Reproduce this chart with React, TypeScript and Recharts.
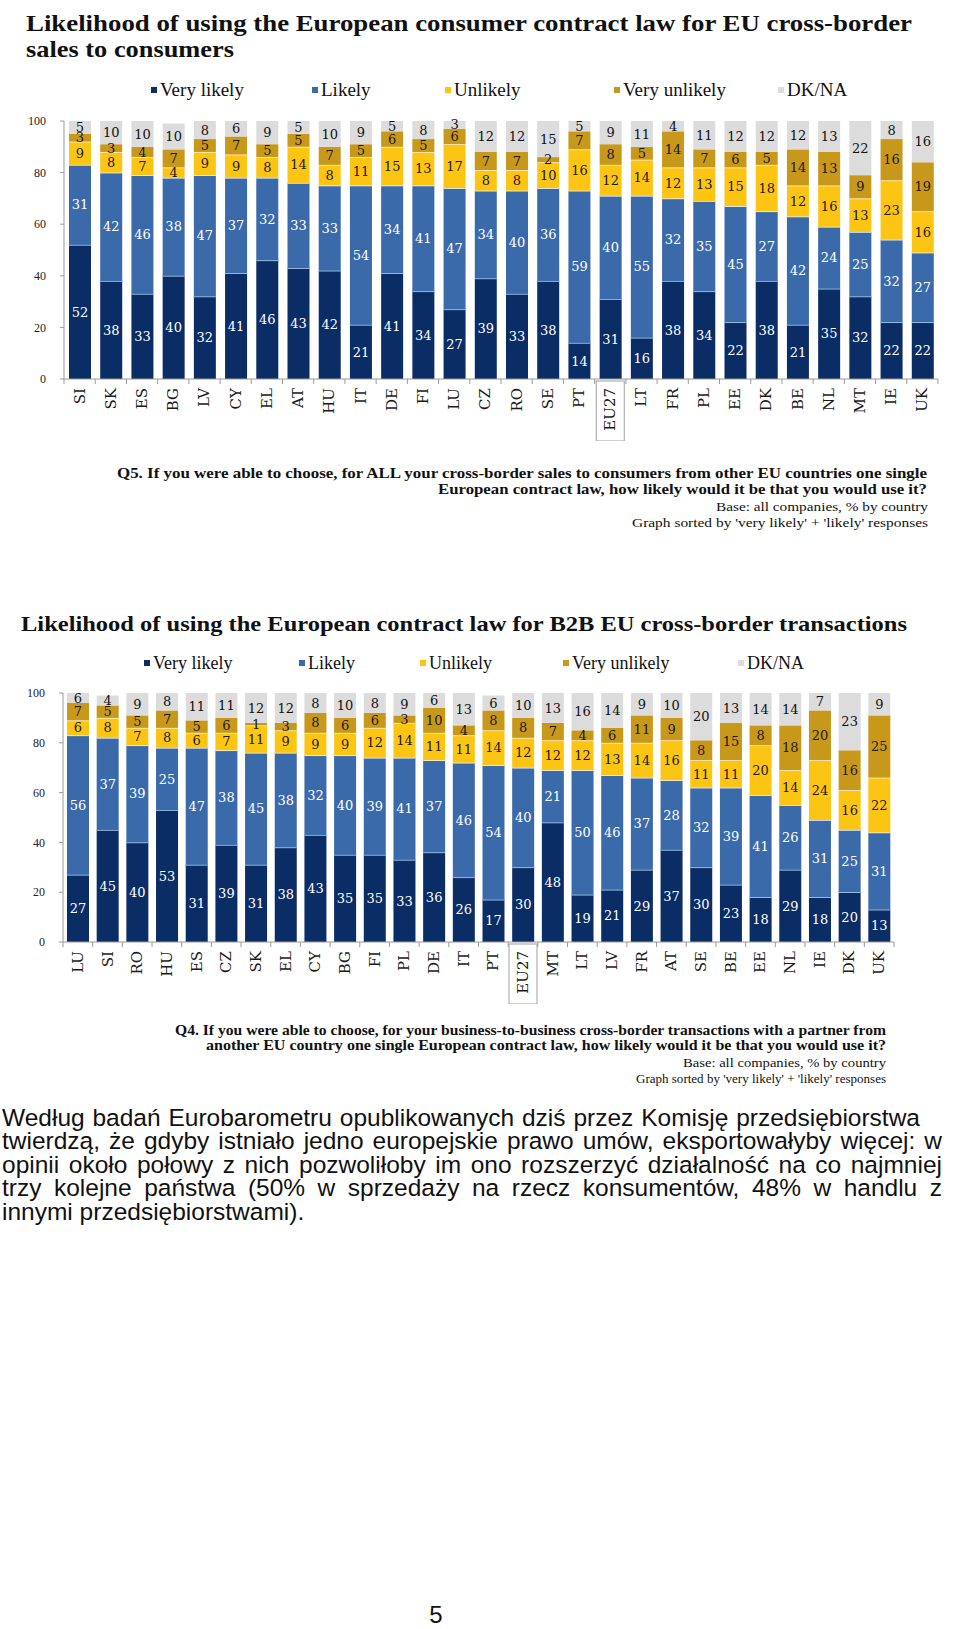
import React from 'react';
import { BarChart, Bar, XAxis, YAxis, LabelList } from 'recharts';

// Q5: B2C sales, sorted by very likely + likely
const b2cCountries = ['SI', 'SK', 'ES', 'BG', 'LV', 'CY', 'EL', 'AT', 'HU', 'IT', 'DE', 'FI', 'LU', 'CZ', 'RO', 'SE', 'PT', 'EU27', 'LT', 'FR', 'PL', 'EE', 'DK', 'BE', 'NL', 'MT', 'IE', 'UK'];
const b2cVeryLikely = [52, 38, 33, 40, 32, 41, 46, 43, 42, 21, 41, 34, 27, 39, 33, 38, 14, 31, 16, 38, 34, 22, 38, 21, 35, 32, 22, 22];
const b2cLikely = [31, 42, 46, 38, 47, 37, 32, 33, 33, 54, 34, 41, 47, 34, 40, 36, 59, 40, 55, 32, 35, 45, 27, 42, 24, 25, 32, 27];
const b2cUnlikely = [9, 8, 7, 4, 9, 9, 8, 14, 8, 11, 15, 13, 17, 8, 8, 10, 16, 12, 14, 12, 13, 15, 18, 12, 16, 13, 23, 16];
const b2cVeryUnlikely = [3, 3, 4, 7, 5, 7, 5, 5, 7, 5, 6, 5, 6, 7, 7, 2, 7, 8, 5, 14, 7, 6, 5, 14, 13, 9, 16, 19];
const b2cDkNa = [5, 10, 10, 10, 8, 6, 9, 5, 10, 9, 5, 8, 3, 12, 12, 15, 5, 9, 11, 4, 11, 12, 12, 12, 13, 22, 8, 16];

// Q4: B2B transactions
const b2bCountries = ['LU', 'SI', 'RO', 'HU', 'ES', 'CZ', 'SK', 'EL', 'CY', 'BG', 'FI', 'PL', 'DE', 'IT', 'PT', 'EU27', 'MT', 'LT', 'LV', 'FR', 'AT', 'SE', 'BE', 'EE', 'NL', 'IE', 'DK', 'UK'];
const b2bVeryLikely = [27, 45, 40, 53, 31, 39, 31, 38, 43, 35, 35, 33, 36, 26, 17, 30, 48, 19, 21, 29, 37, 30, 23, 18, 29, 18, 20, 13];
const b2bLikely = [56, 37, 39, 25, 47, 38, 45, 38, 32, 40, 39, 41, 37, 46, 54, 40, 21, 50, 46, 37, 28, 32, 39, 41, 26, 31, 25, 31];
const b2bUnlikely = [6, 8, 7, 8, 6, 7, 11, 9, 9, 9, 12, 14, 11, 11, 14, 12, 12, 12, 13, 14, 16, 11, 11, 20, 14, 24, 16, 22];
const b2bVeryUnlikely = [7, 5, 5, 7, 5, 6, 1, 3, 8, 6, 6, 3, 10, 4, 8, 8, 7, 4, 6, 11, 9, 8, 15, 8, 18, 20, 16, 25];
const b2bDkNa = [6, 4, 9, 8, 11, 11, 12, 12, 8, 10, 8, 9, 6, 13, 6, 10, 13, 16, 14, 9, 10, 20, 13, 14, 14, 7, 23, 9];

const yTicks = [0, 20, 40, 60, 80, 100];

const seriesKeys = ['veryLikely', 'likely', 'unlikely', 'veryUnlikely', 'dkna'];
const seriesNames = ['Very likely', 'Likely', 'Unlikely', 'Very unlikely', 'DK/NA'];
const seriesColors = ['#0b2d66', '#3b6aab', '#fcc513', '#c8981b', '#dcdcdc'];
const labelColors = ['#ffffff', '#ffffff', '#1e1a10', '#1e1a10', '#111111'];
const edgeColors = ['#a9cdec', '#eef2f8', '#fff4d0', null, null];

const SERIF = '"Liberation Serif", "Times New Roman", serif';
const DJ = '"DejaVu Serif", serif';
const SANS = '"Liberation Sans", Arial, sans-serif';

const makeRows = (countries: string[], cols: number[][]) =>
  countries.map((country, i) => {
    const row: any = { country };
    seriesKeys.forEach((k, j) => { row[k] = cols[j][i]; });
    return row;
  });

const b2cRows = makeRows(b2cCountries, [b2cVeryLikely, b2cLikely, b2cUnlikely, b2cVeryUnlikely, b2cDkNa]);
const b2bRows = makeRows(b2bCountries, [b2bVeryLikely, b2bLikely, b2bUnlikely, b2bVeryUnlikely, b2bDkNa]);

const segShape = (edge: string | null) => (props: any) => {
  const { x, y, width, height, fill } = props;
  if (!height || height <= 0) return <g />;
  return (
    <g>
      <rect x={x} y={y} width={width} height={height} fill={fill} />
      {edge && <line x1={x} x2={x + width} y1={y} y2={y} stroke={edge} strokeWidth={1.6} />}
    </g>
  );
};

// rotated country label, small boundary ticks under the axis, box around EU27
const makeTick = (pitch: number, last: string) => (props: any) => {
  const { x, y, payload } = props;
  const isEu = payload.value === 'EU27';
  return (
    <g transform={`translate(${x},${y})`}>
      <line x1={-pitch / 2} x2={-pitch / 2} y1={-8} y2={-3} stroke="#9a9a9a" />
      {payload.value === last && <line x1={pitch / 2} x2={pitch / 2} y1={-8} y2={-3} stroke="#9a9a9a" />}
      {isEu && <rect x={-14} y={-6} width={28} height={60} fill="none" stroke="#a0a0a0" strokeWidth={1} />}
      <text transform="rotate(-90)" x={-1} y={0} dy={5} textAnchor="end" fontSize={15} fontFamily={DJ} fill="#1a1a1a">
        {payload.value}
      </text>
    </g>
  );
};

const StackedChart = ({ rows, top, height, right, yWidth, pitch }: any) => (
  <div style={{ position: 'absolute', left: 0, top }}>
    <BarChart width={960} height={height} data={rows} barSize={22}
      margin={{ top: 10, right, bottom: 0, left: 0 }}>
      <XAxis dataKey="country" interval={0} height={62} tickLine={false}
        axisLine={{ stroke: '#9a9a9a' }} tick={makeTick(pitch, rows[rows.length - 1].country)} />
      <YAxis width={yWidth} domain={[0, 100]} ticks={yTicks} allowDataOverflow
        tickSize={4} tickMargin={14} axisLine={{ stroke: '#9a9a9a' }} tickLine={{ stroke: '#9a9a9a' }}
        tick={{ fontSize: 12, fontFamily: SERIF, fill: '#222' }} />
      {seriesKeys.map((k, j) => (
        <Bar key={k} dataKey={k} stackId="a" fill={seriesColors[j]} isAnimationActive={false}
          shape={segShape(edgeColors[j])}>
          <LabelList dataKey={k} position="center" fill={labelColors[j]} fontSize={13} fontFamily={DJ} />
        </Bar>
      ))}
    </BarChart>
  </div>
);

const Legend = ({ xs, cy, fontSize }: any) => (
  <g>
    {seriesNames.map((name, j) => (
      <g key={name}>
        <rect x={xs[j]} y={cy - 3} width={6} height={6} fill={seriesColors[j]} />
        <text x={xs[j] + 9} y={cy + 6} fontSize={fontSize} fontFamily={SERIF} fill="#111">{name}</text>
      </g>
    ))}
  </g>
);

const Note = ({ x, y, w, bold, size, anchor, children }: any) => (
  <text x={x} y={y} textLength={w} lengthAdjust="spacingAndGlyphs" textAnchor={anchor || 'end'}
    fontSize={size} fontWeight={bold ? 'bold' : 'normal'} fontFamily={SERIF} fill="#111">
    {children}
  </text>
);

const paragraph = [
  'Według badań Eurobarometru opublikowanych dziś przez Komisję przedsiębiorstwa',
  'twierdzą, że gdyby istniało jedno europejskie prawo umów, eksportowałyby więcej: w',
  'opinii około połowy z nich pozwoliłoby im ono rozszerzyć działalność na co najmniej',
  'trzy kolejne państwa (50% w sprzedaży na rzecz konsumentów, 48% w handlu z',
  'innymi przedsiębiorstwami).',
];
const lineWidths = [918, 940, 940, 940, 0];

export default function App() {
  return (
    <div style={{ position: 'absolute', left: 0, top: 0, width: 960, height: 1629, background: '#fff', overflow: 'hidden' }}>
      <StackedChart rows={b2cRows} top={111} height={330} right={22} yWidth={64} pitch={31.2} />
      <StackedChart rows={b2bRows} top={683} height={321} right={66} yWidth={63} pitch={29.7} />

      <svg width={960} height={1629} style={{ position: 'absolute', left: 0, top: 0, pointerEvents: 'none' }}>
        <Note x={26} y={31} w={886} bold size={24} anchor="start">
          Likelihood of using the European consumer contract law for EU cross-border
        </Note>
        <Note x={26} y={57} w={208} bold size={24} anchor="start">sales to consumers</Note>
        <Legend xs={[151, 312, 445, 614, 778]} cy={90} fontSize={19} />

        <Note x={927} y={478} w={810} bold size={15}>
          Q5. If you were able to choose, for ALL your cross-border sales to consumers from other EU countries one single
        </Note>
        <Note x={927} y={494} w={489} bold size={15}>
          European contract law, how likely would it be that you would use it?
        </Note>
        <Note x={928} y={511} w={212} size={13}>Base: all companies, % by country</Note>
        <Note x={928} y={527} w={296} size={13}>Graph sorted by 'very likely' + 'likely' responses</Note>

        <Note x={21} y={631} w={886} bold size={22} anchor="start">
          Likelihood of using the European contract law for B2B EU cross-border transactions
        </Note>
        <Legend xs={[144, 299, 420, 563, 738]} cy={663} fontSize={18} />

        <Note x={886} y={1035} w={711} bold size={15}>
          Q4. If you were able to choose, for your business-to-business cross-border transactions with a partner from
        </Note>
        <Note x={886} y={1050} w={680} bold size={15}>
          another EU country one single European contract law, how likely would it be that you would use it?
        </Note>
        <Note x={886} y={1067} w={203} size={13}>Base: all companies, % by country</Note>
        <Note x={886} y={1083} w={250} size={13}>Graph sorted by 'very likely' + 'likely' responses</Note>

        <text x={436} y={1623} textAnchor="middle" fontSize={24} fontFamily={SANS} fill="#111">5</text>
      </svg>

      <div style={{ position: 'absolute', left: 2, top: 1106, fontFamily: SANS, fontSize: 24.5, lineHeight: '23.4px', color: '#111' }}>
        {paragraph.map((line, i) => (
          <div key={i} style={{
            width: lineWidths[i] || undefined, whiteSpace: 'nowrap',
            textAlign: 'justify', textAlignLast: lineWidths[i] ? 'justify' : 'left',
          }}>
            {line}
          </div>
        ))}
      </div>
    </div>
  );
}
